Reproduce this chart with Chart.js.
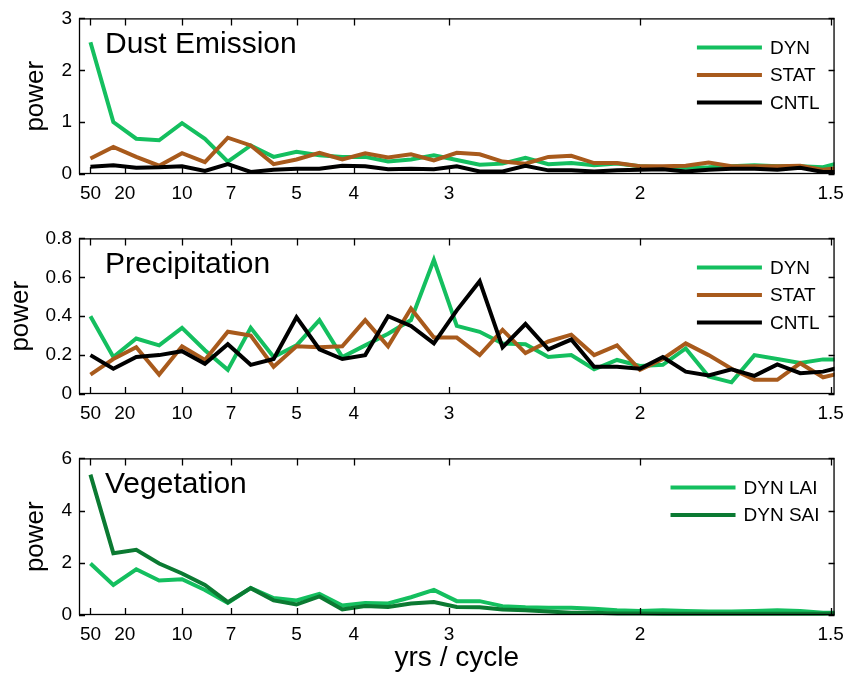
<!DOCTYPE html>
<html>
<head>
<meta charset="utf-8">
<script src="https://cdn.jsdelivr.net/npm/chart.js@4.4.0/dist/chart.umd.min.js"></script>
<style>
    body { margin: 0; background: #fff; }
    .panel { position: absolute; left: 0; width: 852px; }
</style>
</head>
<body>
<div class="panel" style="top:0;height:210px"><canvas id="dustChart" width="852" height="210"></canvas></div>
<div class="panel" style="top:220px;height:210px"><canvas id="precChart" width="852" height="210"></canvas></div>
<div class="panel" style="top:440px;height:235px"><canvas id="vegChart" width="852" height="235"></canvas></div>
<script>
// frequency (1/yr) of each spectral estimate
const freqs = [0.02, 0.04, 0.06, 0.08, 0.10, 0.12, 0.14, 0.16, 0.18, 0.20, 0.22, 0.24,
               0.26, 0.28, 0.30, 0.32, 0.34, 0.36, 0.38, 0.40, 0.42, 0.44, 0.46, 0.48,
               0.50, 0.52, 0.54, 0.56, 0.58, 0.60, 0.62, 0.64, 0.66, 0.68];

// tick positions (frequency) and their labels (yrs / cycle)
const tickFreqs = [0.02, 0.05, 0.1, 0.142857, 0.2, 0.25, 0.333333, 0.5, 0.666667];
const tickLabels = ['50', '20', '10', '7', '5', '4', '3', '2', '1.5'];

const dustDyn = [2.54, 1.00, 0.68, 0.65, 0.98, 0.68, 0.24, 0.55, 0.33, 0.43, 0.36, 0.33,
                 0.33, 0.24, 0.28, 0.36, 0.27, 0.18, 0.20, 0.31, 0.19, 0.21, 0.17, 0.20,
                 0.15, 0.13, 0.12, 0.13, 0.15, 0.17, 0.15, 0.15, 0.13, 0.25];
const dustStat = [0.30, 0.52, 0.33, 0.16, 0.40, 0.23, 0.70, 0.55, 0.19, 0.28, 0.41, 0.28,
                  0.40, 0.32, 0.38, 0.26, 0.41, 0.38, 0.24, 0.20, 0.33, 0.35, 0.21, 0.21,
                  0.15, 0.15, 0.16, 0.22, 0.15, 0.15, 0.15, 0.16, 0.08, 0.14];
const dustCntl = [0.14, 0.17, 0.12, 0.13, 0.15, 0.06, 0.19, 0.04, 0.08, 0.10, 0.10, 0.16,
                  0.15, 0.09, 0.10, 0.09, 0.15, 0.05, 0.05, 0.16, 0.07, 0.07, 0.05, 0.07,
                  0.08, 0.09, 0.05, 0.08, 0.10, 0.10, 0.08, 0.12, 0.04, 0.04];

const precDyn = [0.40, 0.19, 0.285, 0.25, 0.34, 0.225, 0.124, 0.34, 0.19, 0.25, 0.38, 0.19,
                 0.25, 0.31, 0.38, 0.69, 0.35, 0.32, 0.26, 0.256, 0.19, 0.20, 0.127, 0.175,
                 0.144, 0.15, 0.234, 0.09, 0.06, 0.20, 0.18, 0.16, 0.178, 0.178];
const precStat = [0.10, 0.18, 0.24, 0.10, 0.245, 0.175, 0.32, 0.30, 0.14, 0.245, 0.24, 0.245,
                  0.38, 0.245, 0.44, 0.29, 0.29, 0.20, 0.33, 0.21, 0.27, 0.305, 0.20, 0.25,
                  0.124, 0.18, 0.26, 0.20, 0.13, 0.073, 0.073, 0.158, 0.086, 0.114];
const precCntl = [0.20, 0.13, 0.19, 0.20, 0.22, 0.155, 0.256, 0.15, 0.18, 0.395, 0.23, 0.18,
                  0.20, 0.40, 0.35, 0.26, 0.43, 0.58, 0.24, 0.36, 0.23, 0.28, 0.14, 0.14,
                  0.13, 0.19, 0.115, 0.095, 0.127, 0.093, 0.152, 0.107, 0.115, 0.145];

const vegLai = [1.97, 1.15, 1.75, 1.32, 1.37, 0.96, 0.46, 1.03, 0.65, 0.56, 0.81, 0.36,
                0.46, 0.44, 0.68, 0.96, 0.53, 0.53, 0.34, 0.30, 0.28, 0.28, 0.24, 0.18,
                0.15, 0.18, 0.15, 0.13, 0.13, 0.15, 0.18, 0.15, 0.09, 0.09];
const vegSai = [5.38, 2.37, 2.50, 1.97, 1.59, 1.15, 0.49, 1.03, 0.56, 0.40, 0.71, 0.21,
                0.34, 0.31, 0.44, 0.50, 0.31, 0.30, 0.21, 0.18, 0.13, 0.09, 0.09, 0.06,
                0.06, 0.05, 0.05, 0.05, 0.05, 0.05, 0.05, 0.05, 0.05, 0.06];

const GREEN = '#14bf5f';
const BROWN = '#a85a1c';
const BLACK = '#000000';
const DARK_GREEN = '#0b7a32';
const FONT = "'Liberation Sans', Arial, sans-serif";

function series(label, values, color) {
    return {
        label: label,
        data: values.map((v, i) => ({ x: freqs[i], y: v })),
        borderColor: color,
        backgroundColor: color,
        borderWidth: 4,
        pointRadius: 0,
        tension: 0,
        clip: { left: 0, right: 0, top: false, bottom: false }
    };
}

// frame, inward ticks, panel title and legend
const panelDecor = {
    id: 'panelDecor',
    afterDatasetsDraw(chart, args, opts) {
        const ctx = chart.ctx;
        const a = chart.chartArea;
        const xs = chart.scales.x, ys = chart.scales.y;
        ctx.save();
        ctx.strokeStyle = '#000';
        ctx.lineWidth = 1.3;
        ctx.strokeRect(a.left + 0.5, a.top + 0.5, a.right - a.left - 1, a.bottom - a.top - 1);
        ctx.beginPath();
        xs.ticks.forEach(t => {
            const px = Math.round(xs.getPixelForValue(t.value)) + 0.5;
            ctx.moveTo(px, a.bottom); ctx.lineTo(px, a.bottom - 7);
            ctx.moveTo(px, a.top); ctx.lineTo(px, a.top + 7);
        });
        ys.ticks.forEach(t => {
            const py = Math.round(ys.getPixelForValue(t.value)) + 0.5;
            ctx.moveTo(a.left, py); ctx.lineTo(a.left + 6, py);
            ctx.moveTo(a.right, py); ctx.lineTo(a.right - 6, py);
        });
        ctx.stroke();

        // panel title
        ctx.fillStyle = '#000';
        ctx.font = '30px ' + FONT;
        ctx.textBaseline = 'alphabetic';
        ctx.textAlign = 'left';
        ctx.fillText(opts.title, a.left + 26, a.top + 35);

        // legend
        ctx.font = '19px ' + FONT;
        ctx.textBaseline = 'middle';
        const sets = chart.data.datasets;
        const textW = Math.max(...sets.map(d => ctx.measureText(d.label).width));
        const textX = a.right - 15 - textW;
        sets.forEach((d, i) => {
            const y = a.top + 29 + i * 27.5;
            ctx.strokeStyle = d.borderColor;
            ctx.lineWidth = 4;
            ctx.beginPath();
            ctx.moveTo(textX - 73, y);
            ctx.lineTo(textX - 8, y);
            ctx.stroke();
            ctx.fillText(d.label, textX, y + 1);
        });
        ctx.restore();
    }
};

function makePanel(id, title, datasets, yMax, yStep, powerPad, xHeight, showXTitle) {
    datasets.forEach((d, i) => { d.order = datasets.length - 1 - i; });
    new Chart(document.getElementById(id), {
        type: 'line',
        data: { datasets: datasets },
        options: {
            responsive: false,
            animation: false,
            devicePixelRatio: 1,
            layout: { padding: { top: 16, right: 14, left: 0, bottom: 0 } },
            plugins: {
                legend: { display: false },
                tooltip: { enabled: false },
                panelDecor: { title: title }
            },
            scales: {
                x: {
                    type: 'linear',
                    min: 0.01,
                    max: 0.67,
                    afterBuildTicks: (scale) => {
                        scale.ticks = tickFreqs.map(v => ({ value: v }));
                    },
                    afterFit: (scale) => { scale.height = xHeight; },
                    grid: { display: false, drawTicks: false },
                    border: { display: false },
                    ticks: {
                        autoSkip: false,
                        maxRotation: 0,
                        padding: 8,
                        color: '#000',
                        font: { family: FONT, size: 19 },
                        callback: (v, i) => tickLabels[i]
                    },
                    title: {
                        display: showXTitle,
                        text: 'yrs / cycle',
                        color: '#000',
                        font: { family: FONT, size: 28 },
                        padding: { top: 0, bottom: 0 }
                    }
                },
                y: {
                    min: 0,
                    max: yMax,
                    afterFit: (scale) => { scale.width = 79; },
                    grid: { display: false, drawTicks: false },
                    border: { display: false },
                    ticks: {
                        stepSize: yStep,
                        padding: 7,
                        color: '#000',
                        font: { family: FONT, size: 19 }
                    },
                    title: {
                        display: true,
                        text: 'power',
                        color: '#000',
                        font: { family: FONT, size: 26 },
                        padding: { top: powerPad, bottom: 0 }
                    }
                }
            }
        },
        plugins: [panelDecor]
    });
}

makePanel('dustChart', 'Dust Emission', [
    series('DYN', dustDyn, GREEN),
    series('STAT', dustStat, BROWN),
    series('CNTL', dustCntl, BLACK)
], 3, 1, 20, 36, false);

makePanel('precChart', 'Precipitation', [
    series('DYN', precDyn, GREEN),
    series('STAT', precStat, BROWN),
    series('CNTL', precCntl, BLACK)
], 0.8, 0.2, 5, 36, false);

makePanel('vegChart', 'Vegetation', [
    series('DYN LAI', vegLai, GREEN),
    series('DYN SAI', vegSai, DARK_GREEN)
], 6, 2, 20, 60, true);
</script>
</body>
</html>
